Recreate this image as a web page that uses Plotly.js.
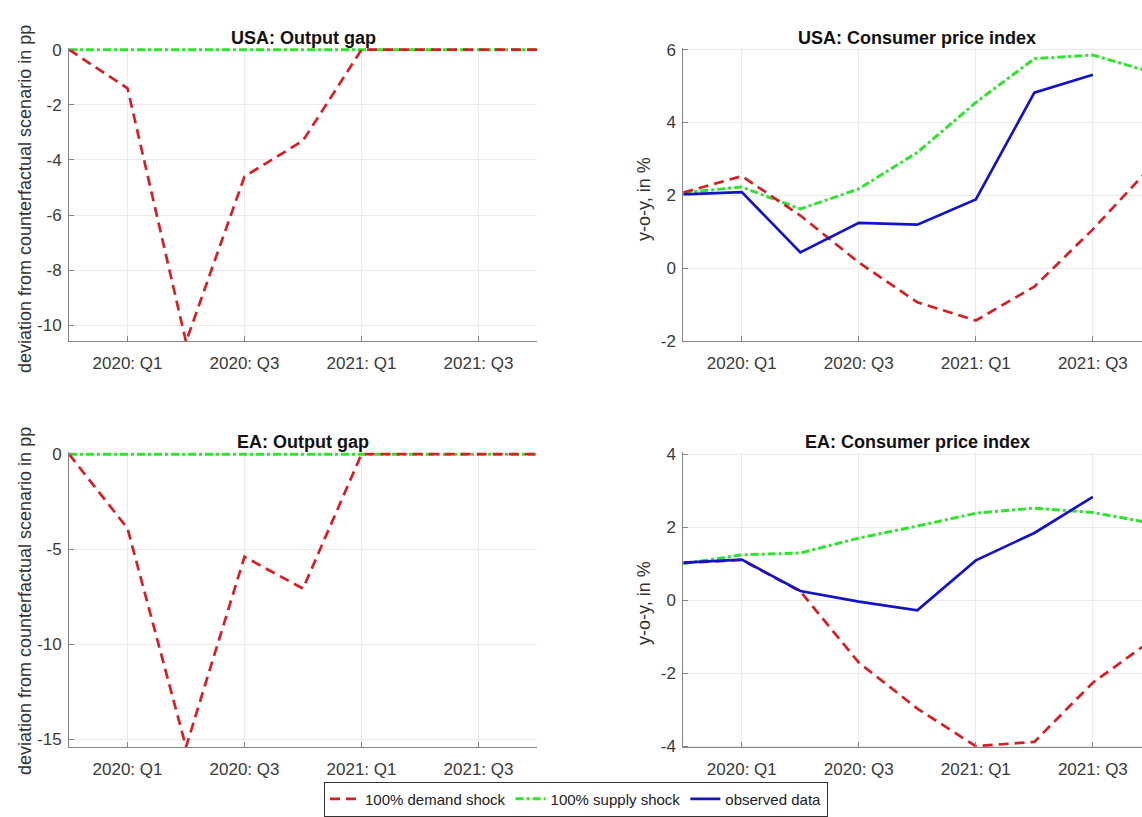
<!DOCTYPE html>
<html>
<head>
<meta charset="utf-8">
<script src="https://cdn.plot.ly/plotly-3.0.1.min.js"></script>
<style>html,body{margin:0;padding:0;background:#fff;}#chart{width:1142px;height:817px;}</style>
</head>
<body>
<div id="chart"></div>
<script>
// Quarters: index 0 = 2019: Q4 ... 8 = 2021: Q4
const quarters = ["2019: Q4","2020: Q1","2020: Q2","2020: Q3","2020: Q4","2021: Q1","2021: Q2","2021: Q3","2021: Q4"];
const xTickIdx = [1, 3, 5, 7];
const xTickLabels = ["2020: Q1", "2020: Q3", "2021: Q1", "2021: Q3"];

// USA output gap
const usaGapDemand = [0, -1.4, -10.6, -4.6, -3.3, 0, 0, 0, 0];
const usaGapSupply = [0, 0, 0, 0, 0, 0, 0, 0, 0];
// USA CPI
const usaCpiDemand = [2.08, 2.53, 1.45, 0.16, -0.93, -1.43, -0.5, 1.07, 2.8];
const usaCpiSupply = [2.08, 2.23, 1.63, 2.18, 3.18, 4.55, 5.75, 5.85, 5.38];
const usaCpiObserved = [2.03, 2.09, 0.44, 1.25, 1.2, 1.89, 4.82, 5.31];
// EA output gap
const eaGapDemand = [0, -3.9, -15.4, -5.4, -7.07, 0, 0, 0, 0];
const eaGapSupply = [0, 0, 0, 0, 0, 0, 0, 0, 0];
// EA CPI
const eaCpiDemand = [1.02, 1.1, 0.24, -1.71, -2.97, -4.0, -3.88, -2.26, -1.1];
const eaCpiSupply = [1.0, 1.24, 1.29, 1.70, 2.03, 2.38, 2.52, 2.40, 2.11];
const eaCpiObserved = [1.03, 1.11, 0.25, -0.04, -0.28, 1.09, 1.84, 2.83];

const panelTitles = ["USA: Output gap", "USA: Consumer price index", "EA: Output gap", "EA: Consumer price index"];
const yLabelLeft = "deviation from counterfactual scenario in pp";
const yLabelRight = "y-o-y, in %";
const legendNames = ["100% demand shock", "100% supply shock", "observed data"];

const yTicks = {
  y1: [-10, -8, -6, -4, -2, 0],
  y2: [-2, 0, 2, 4, 6],
  y3: [-15, -10, -5, 0],
  y4: [-4, -2, 0, 2, 4]
};

const RED = "#d81e24", GREEN = "#2ee52e", BLUE = "#1414c4";
const xs = quarters.map((q, i) => i);

function tr(y, ax, color, dash, width, name, show, rank) {
  return {
    x: xs.slice(0, y.length), y: y, type: "scatter", mode: "lines",
    xaxis: "x" + (ax === 1 ? "" : ax), yaxis: "y" + (ax === 1 ? "" : ax),
    line: {color: color, width: width, dash: dash},
    name: name, showlegend: show, legendrank: rank, hoverinfo: "skip"
  };
}
const DASH = "10px,6px";
const DASHDOT = "8px,3px,3px,3px";

const data = [
  tr(usaGapSupply, 1, GREEN, DASHDOT, 3, legendNames[1], true, 2),
  tr(usaGapDemand, 1, RED, DASH, 2.7, legendNames[0], true, 1),
  tr(usaCpiSupply, 2, GREEN, DASHDOT, 3, legendNames[1], false, 2),
  tr(usaCpiDemand, 2, RED, DASH, 2.7, legendNames[0], false, 1),
  tr(usaCpiObserved, 2, BLUE, "solid", 2.7, legendNames[2], true, 3),
  tr(eaGapSupply, 3, GREEN, DASHDOT, 3, legendNames[1], false, 2),
  tr(eaGapDemand, 3, RED, DASH, 2.7, legendNames[0], false, 1),
  tr(eaCpiSupply, 4, GREEN, DASHDOT, 3, legendNames[1], false, 2),
  tr(eaCpiDemand, 4, RED, DASH, 2.7, legendNames[0], false, 1),
  tr(eaCpiObserved, 4, BLUE, "solid", 2.7, legendNames[2], false, 3)
];

const W = 1142, H = 817;
const fx = px => px / W, fy = py => (H - py) / H;
const leftX = [fx(69), fx(537)];
const rightX = [fx(683.3), 1];
const topY = [fy(343), fy(48)];
const botY = [fy(751), fy(454.5)];

const FONT = "Liberation Sans, Arial, Helvetica, sans-serif";
function xax(domain, range, anchor) {
  return {
    domain: domain, range: range, anchor: anchor,
    tickvals: xTickIdx, ticktext: xTickLabels,
    showgrid: true, gridcolor: "#ebebeb", gridwidth: 1,
    showline: true, linecolor: "#858585", linewidth: 1, mirror: false,
    ticks: "inside", ticklen: 5, tickcolor: "#858585",
    tickfont: {family: FONT, size: 17, color: "#3a3a3a"},
    ticklabelstandoff: 6, zeroline: false, fixedrange: true
  };
}
function yax(domain, range, anchor, ticks) {
  return {
    domain: domain, range: range, anchor: anchor,
    tickvals: ticks, ticktext: ticks.map(v => String(v)),
    showgrid: true, gridcolor: "#ebebeb", gridwidth: 1,
    showline: true, linecolor: "#858585", linewidth: 1, mirror: false,
    ticks: "inside", ticklen: 5, tickcolor: "#858585",
    tickfont: {family: FONT, size: 17, color: "#3a3a3a"},
    ticklabelstandoff: 3, zeroline: false, fixedrange: true
  };
}

const titleFont = {family: FONT, size: 18, color: "#111"};
const labFont = {family: FONT, size: 18, color: "#333"};
const annotations = [
  {text: "<b>" + panelTitles[0] + "</b>", x: fx(303), y: fy(38)},
  {text: "<b>" + panelTitles[1] + "</b>", x: fx(917), y: fy(38)},
  {text: "<b>" + panelTitles[2] + "</b>", x: fx(303), y: fy(444)},
  {text: "<b>" + panelTitles[3] + "</b>", x: fx(917), y: fy(444)}
].map(a => Object.assign(a, {xref: "paper", yref: "paper", showarrow: false, xanchor: "center", yanchor: "middle", font: titleFont}));
[
  {text: yLabelLeft, x: fx(25), y: fy(200)},
  {text: yLabelLeft, x: fx(25), y: fy(604)},
  {text: yLabelRight, x: fx(644), y: fy(200)},
  {text: yLabelRight, x: fx(644), y: fy(606)}
].forEach(a => annotations.push(Object.assign(a, {xref: "paper", yref: "paper", showarrow: false, textangle: -90, xanchor: "center", yanchor: "middle", font: labFont})));

const layout = {
  width: W, height: H,
  margin: {l: 0, r: 0, t: 0, b: 0},
  paper_bgcolor: "#fff", plot_bgcolor: "#fff",
  showlegend: true,
  legend: {
    orientation: "h", x: fx(576), y: fy(803), xanchor: "center", yanchor: "middle",
    bordercolor: "#333", borderwidth: 1, bgcolor: "#fff",
    font: {family: FONT, size: 15, color: "#222"},
    traceorder: "normal", itemwidth: 30, tracegroupgap: 0
  },
  xaxis: xax(leftX, [0, 8], "y"),
  yaxis: yax(topY, [-10.58, 0.07], "x", yTicks.y1),
  xaxis2: xax(rightX, [0, 7.84], "y2"),
  yaxis2: yax(topY, [-2, 6.05], "x2", yTicks.y2),
  xaxis3: xax(leftX, [0, 8], "y3"),
  yaxis3: yax(botY, [-15.42, 0.1], "x3", yTicks.y3),
  xaxis4: xax(rightX, [0, 7.84], "y4"),
  yaxis4: yax(botY, [-4.03, 4.05], "x4", yTicks.y4),
  annotations: annotations
};

Plotly.newPlot("chart", data, layout, {staticPlot: true, displayModeBar: false});
</script>
</body>
</html>
